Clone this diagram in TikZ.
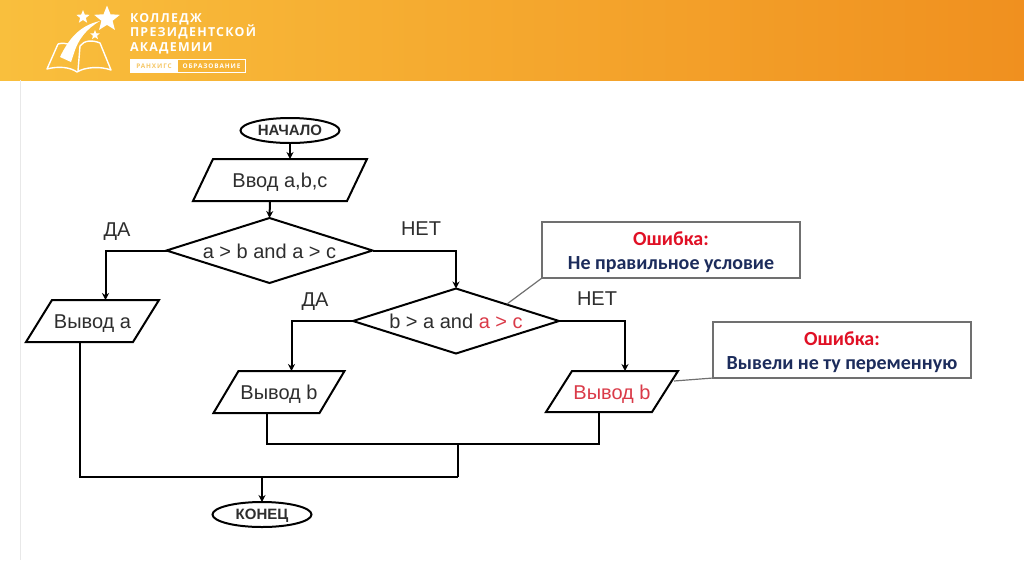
\documentclass[tikz,border=0pt]{standalone}
\usepackage{fontspec}
\setmainfont{Liberation Sans}
\newfontfamily\calloutfont{Carlito}
\newfontfamily\logofont[LetterSpace=10]{Open Sans}
\newfontfamily\badgefont[LetterSpace=14]{Open Sans}
\usetikzlibrary{shapes.geometric,arrows.meta}
\definecolor{hdrL}{HTML}{F9BF3D}
\definecolor{hdrR}{HTML}{F0901F}
\definecolor{ink}{HTML}{2E2E2E}
\definecolor{errred}{HTML}{DA3A48}
\definecolor{callred}{HTML}{E01025}
\definecolor{callnavy}{HTML}{1C2C5C}
\definecolor{callline}{HTML}{707070}
\definecolor{badgetxt}{HTML}{F6C766}
\tikzset{
  x=1pt,y=-1pt,
  every node/.style={inner sep=0pt,outer sep=0pt,text=ink,text height=15pt,text depth=0pt,font=\fontsize{20}{22}\selectfont},
  shapeline/.style={draw=black,line width=2pt,line join=miter,fill=white},
  flow/.style={draw=black,line width=2pt},
  flowarrow/.style={flow,-{Stealth[length=7pt,width=7pt]}},
  terminal/.style={shape=ellipse,shapeline,text height=10.5pt,font=\fontsize{15}{16}\selectfont\bfseries},
  decision/.style={shape=diamond,shapeline,minimum width=206pt,minimum height=65pt,aspect=3.2},
  callout/.style={draw=callline,line width=1.2pt,fill=white,minimum width=258pt,minimum height=56pt,text height=0pt},
  calltail/.style={draw=callline,line width=1.2pt},
  calltitle/.style={text=callred,text height=13pt,font=\calloutfont\fontsize{20}{22}\selectfont\bfseries},
  calltext/.style={text=callnavy,text height=13pt,font=\calloutfont\fontsize{20}{22}\selectfont\bfseries},
  logotext/.style={anchor=west,text=white,text height=9pt,font=\logofont\fontsize{12.4}{13}\selectfont\bfseries},
  badgetext/.style={text height=5pt,font=\badgefont\fontsize{6.4}{7}\selectfont\bfseries},
  logostar/.style={shape=star,star points=5,star point ratio=2.3,fill=white,text height=0pt},
}
% name, centre x, centre y, width of the box, height, skew, label options, label
\newcommand{\iobox}[8]{%
  \filldraw[shapeline] (#2-#4/2-#6/2,#3+#5/2) -- (#2-#4/2+#6/2,#3-#5/2) -- (#2+#4/2+#6/2,#3-#5/2) -- (#2+#4/2-#6/2,#3+#5/2) -- cycle;
  \node[#7] (#1) at (#2,#3) {#8};
  \coordinate (#1-in) at (#2+#6/2,#3-#5/2);
  \coordinate (#1-out) at (#2-#6/2,#3+#5/2);
}
\begin{document}
\begin{tikzpicture}
\useasboundingbox (0,0) rectangle (1024,574);
\fill[white] (0,0) rectangle (1024,574);
\shade[left color=hdrL,right color=hdrR] (0,0) rectangle (1024,80);
\draw[gray!18,line width=0.8pt] (20,80) -- (20,560);

% logo
\node[logostar,minimum size=27pt] (s1) at (107,19) {};
\node[logostar,minimum size=14pt] (s2) at (83,17) {};
\node[logostar,minimum size=10pt] (s3) at (95,35) {};
\fill[white] (100,21) .. controls (82,25) and (70,36) .. (60,57) -- (71,62) -- (74,53) .. controls (78,40) and (86,29) .. (100,21) -- cycle;
\draw[white,line width=1.4pt,line join=round] (58,44) -- (47,69) .. controls (58,66) and (70,67) .. (77,72) .. controls (85,67) and (100,66) .. (111,70) -- (100,43) .. controls (93,40) and (84,40) .. (80,46) -- (78,71);
\draw[white,line width=1.4pt] (58,44) .. controls (62,43) and (65,43) .. (68,44);
\node[logotext] (t1) at (130,18) {КОЛЛЕДЖ};
\node[logotext] (t2) at (130,32) {ПРЕЗИДЕНТСКОЙ};
\node[logotext] (t3) at (130,47) {АКАДЕМИИ};
\draw[white,line width=0.8pt] (130,59) rectangle (245,72);
\fill[white] (130,59) rectangle (178,72);
\node[badgetext,text=badgetxt] (b1) at (154,65.5) {РАНХИГС};
\node[badgetext,text=white] (b2) at (211.5,65.5) {ОБРАЗОВАНИЕ};

% callout tails and boxes
\node[callout] (c1) at (671,250) {};
\node[callout] (c2) at (842,350) {};
\node[calltitle] (c1a) at (671,239) {Ошибка:};
\node[calltext] (c1b) at (671,263) {Не правильное условие};
\node[calltitle] (c2a) at (842,339) {Ошибка:};
\node[calltext] (c2b) at (842,363) {Вывели не ту переменную};

% shapes
\node[terminal,minimum width=99pt,minimum height=25pt] (start) at (290,130.5) {НАЧАЛО};
\iobox{inp}{280}{180}{154}{42}{20}{}{Ввод a,b,c}
\node[decision] (d1) at (269.5,250.5) {a > b and a > c};
\node[decision] (d2) at (456,321) {b > a and \textcolor{errred}{a > c}};
\iobox{pa}{92.5}{321}{107}{42}{26}{}{Вывод a}
\iobox{pb}{279}{392}{106}{42}{25}{}{Вывод b}
\iobox{pr}{612}{391.5}{106}{41}{26}{text=errred}{Вывод b}
\node[terminal,minimum width=99pt,minimum height=25pt] (stop) at (262,514.5) {КОНЕЦ};

\draw[calltail] (c1.south west) -- (507,304);
\draw[calltail] (c2.south west) -- (674,381);

% connectors
\coordinate (j1) at (458,444);
\coordinate (j2) at (458,477);
\coordinate (j3) at (262,477);
\draw[flowarrow] (start.south) -- (inp-in);
\draw[flowarrow] (inp-out) -- (d1.north);
\draw[flowarrow] (d1.west) -| (pa-in);
\draw[flowarrow] (d1.east) -| (d2.north);
\draw[flowarrow] (d2.west) -| (pb-in);
\draw[flowarrow] (d2.east) -| (pr-in);
\draw[flow] (pb-out) |- (j1) -| (pr-out);
\draw[flow] (j1) -- (j2);
\draw[flow] (pa-out) |- (j2);
\draw[flowarrow] (j3) -- (stop.north);

% branch labels
\node (l1) at (117,229) {ДА};
\node (l2) at (421,228) {НЕТ};
\node (l3) at (315,299) {ДА};
\node (l4) at (597,298) {НЕТ};
\end{tikzpicture}
\end{document}
